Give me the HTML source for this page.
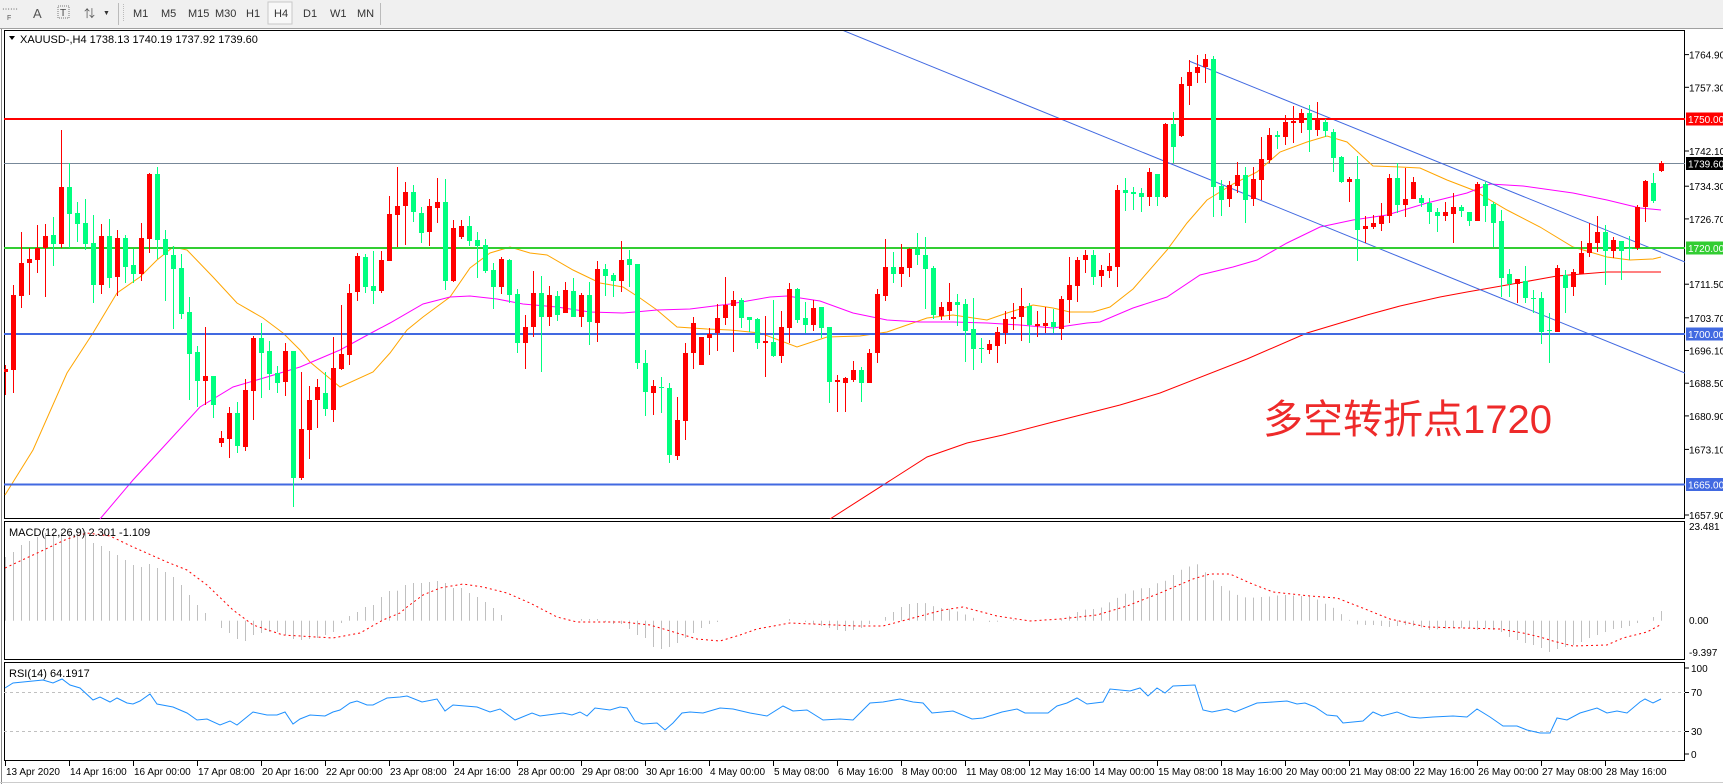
<!DOCTYPE html>
<html><head><meta charset="utf-8"><style>
html,body{margin:0;padding:0;background:#fff;width:1723px;height:784px;overflow:hidden}
svg text{font-family:"Liberation Sans","Noto Sans CJK SC",sans-serif}
</style></head><body>
<svg id="s" width="1723" height="784" xmlns="http://www.w3.org/2000/svg">
<defs>
<clipPath id="cm"><rect x="4" y="31" width="1681" height="488"/></clipPath>
<clipPath id="cd"><rect x="4" y="522" width="1681" height="137"/></clipPath>
<clipPath id="cr"><rect x="4" y="663" width="1681" height="98"/></clipPath>
</defs>
<rect x="0" y="0" width="1723" height="28" fill="#f0f0f0"/>
<line x1="0" y1="28.5" x2="1723" y2="28.5" stroke="#a0a0a0"/>
<g font-size="11" fill="#333">
<text x="2" y="12" font-size="8" fill="#555">⋯⋯</text><text x="7" y="20" font-size="7" fill="#555">F</text>
<text x="33" y="18" font-size="13" fill="#555">A</text>
<rect x="58" y="6" width="11" height="12" fill="none" stroke="#777" stroke-dasharray="1,1"/><text x="60" y="16" font-size="10" fill="#444">T</text>
<text x="84" y="17" font-size="11" fill="#555">⇅</text><text x="103" y="15" font-size="7" fill="#333">▼</text>
<line x1="118.5" y1="3" x2="118.5" y2="25" stroke="#bbb"/><line x1="123.5" y1="4" x2="123.5" y2="22" stroke="#bbb" stroke-dasharray="1,1"/>
<rect x="268" y="2" width="24" height="22" fill="#f8f8f8" stroke="#c8c8c8"/>
<text x="133" y="17">M1</text><text x="161" y="17">M5</text><text x="188" y="17">M15</text><text x="215" y="17">M30</text>
<text x="246" y="17">H1</text><text x="274" y="17">H4</text><text x="303" y="17">D1</text><text x="330" y="17">W1</text><text x="357" y="17">MN</text>
<line x1="380.5" y1="3" x2="380.5" y2="25" stroke="#bbb"/>
</g>
<line x1="1.5" y1="29" x2="1.5" y2="784" stroke="#888"/>
<rect x="4.5" y="30.5" width="1680" height="488" fill="none" stroke="#000"/>
<rect x="4.5" y="521.5" width="1680" height="138" fill="none" stroke="#000"/>
<rect x="4.5" y="662.5" width="1680" height="98" fill="none" stroke="#000"/>
<line x1="0" y1="782.5" x2="1723" y2="782.5" stroke="#ccc"/>
<g id="main" clip-path="url(#cm)"></g>
<g id="macd" clip-path="url(#cd)"></g>
<g id="rsi" clip-path="url(#cr)"></g>
<g id="ax" font-size="10" fill="#000"></g>
<path d="M9 36 L15 36 L12 40 Z" fill="#000"/>
<text x="20" y="43" font-size="11">XAUUSD-,H4  1738.13 1740.19 1737.92 1739.60</text>
<text x="9" y="536" font-size="11">MACD(12,26,9) 2.301 -1.109</text>
<text x="9" y="677" font-size="11">RSI(14) 64.1917</text>
<text x="1552" y="433" font-size="40" fill="#ee2a2a" text-anchor="end" font-family="'Liberation Sans','Noto Sans CJK SC',sans-serif">多空转折点1720</text>
</svg>
<script>
var NS="http://www.w3.org/2000/svg";
function el(p,t,a){var e=document.createElementNS(NS,t);for(var k in a)e.setAttribute(k,a[k]);p.appendChild(e);return e;}
var M=document.getElementById("main"),D=document.getElementById("macd"),R=document.getElementById("rsi"),A=document.getElementById("ax");
var C="r 369 372 365 395|r 295 370 285 393|r 263 296 232 308|r 259 263 248 295|r 248 260 225 273|r 236 248 224 297|g 235 244 217 266|r 187 244 130 248|g 187 214 163 248|g 213 224 202 242|g 223 244 199 250|g 243 285 215 303|r 236 285 224 294|g 236 278 219 288|r 238 277 230 296|g 238 267 235 283|g 265 274 249 283|r 238 274 223 281|r 174 239 173 253|g 174 240 167 259|g 239 255 230 301|g 255 269 246 329|g 268 314 254 319|g 312 354 297 400|g 352 381 346 407|r 376 381 327 405|g 376 405 376 418|r 438 443 431 447|r 413 439 407 458|g 413 446 402 453|r 390 447 379 451|r 338 391 336 420|g 338 353 323 398|g 351 374 341 390|g 373 383 366 393|r 351 382 343 396|g 351 478 351 507|r 429 478 372 480|r 400 430 386 459|r 387 400 379 428|g 393 409 372 416|r 368 410 337 422|r 354 369 305 370|r 293 355 284 365|r 256 292 253 301|g 257 287 254 293|g 286 291 251 304|r 260 291 251 293|r 214 261 196 261|r 206 215 167 247|r 192 206 182 245|g 192 212 185 222|g 213 233 207 243|r 206 232 199 246|r 202 208 178 223|g 202 281 179 290|r 228 281 220 282|r 226 237 220 239|g 226 241 216 246|g 240 246 232 278|g 245 271 239 273|g 270 287 263 309|r 259 287 257 294|g 260 295 259 303|g 294 343 289 353|r 327 343 315 369|r 293 327 271 337|g 293 317 276 372|r 295 317 286 326|g 296 315 291 321|r 290 313 282 313|g 291 317 278 317|r 295 317 293 327|g 295 322 282 345|r 269 323 261 342|g 269 276 264 296|g 275 281 273 297|r 260 281 241 292|g 259 265 250 287|g 264 363 264 369|g 363 392 350 416|r 386 393 380 415|g 387 388 377 413|g 388 455 383 463|r 420 456 397 460|r 353 421 343 440|r 323 353 317 369|r 337 365 337 365|r 334 338 328 355|r 318 333 304 351|r 305 318 277 325|r 300 306 291 352|g 300 318 298 328|g 317 320 317 332|g 319 343 318 349|r 341 343 316 377|g 342 356 300 357|r 327 356 311 363|r 289 328 283 343|g 289 320 288 323|g 318 325 302 333|r 308 325 300 331|g 307 328 307 338|g 327 382 327 403|r 380 382 375 412|r 378 383 377 412|r 370 380 361 382|g 370 383 367 402|r 353 383 349 383|r 294 353 289 363|r 267 296 239 301|g 267 274 252 283|r 267 274 244 287|r 249 268 248 277|g 249 255 233 265|g 255 269 237 309|g 268 315 266 319|r 307 316 302 320|r 302 311 283 320|g 302 305 294 326|g 304 331 299 362|g 329 349 298 370|g 348 349 338 363|r 344 350 340 354|r 332 346 327 363|r 319 333 311 344|r 317 319 303 330|r 306 317 288 341|g 306 325 303 343|r 324 326 311 337|r 323 326 307 333|g 322 327 309 333|r 299 329 296 340|r 285 300 257 323|r 260 286 257 302|r 255 260 250 273|g 255 277 250 285|r 270 276 265 287|r 266 271 253 278|r 190 267 185 287|g 190 193 178 211|g 192 194 187 210|g 193 197 188 212|r 172 197 168 206|g 174 197 174 206|r 124 197 123 198|g 124 147 112 163|r 84 136 77 137|r 72 86 60 105|r 67 73 55 83|r 59 67 54 83|g 59 187 56 217|g 186 200 180 216|r 185 199 181 207|r 175 186 162 193|g 175 200 167 223|r 179 199 167 206|r 159 180 137 200|r 135 160 128 163|g 135 137 131 149|r 122 137 115 145|r 121 123 106 143|r 113 123 109 133|g 113 130 105 152|r 118 130 102 136|g 122 131 119 137|g 132 158 129 172|g 157 182 156 183|r 179 182 177 202|g 179 230 156 261|r 226 229 216 243|r 223 227 215 229|r 216 224 203 231|r 178 216 174 223|g 178 205 163 213|r 199 205 168 217|r 182 199 177 199|g 198 203 195 207|g 203 212 198 224|g 212 216 208 232|r 212 216 202 221|r 207 214 193 243|g 207 211 205 217|g 212 221 212 226|r 184 221 182 221|g 184 206 182 222|g 204 223 202 247|g 221 278 210 297|g 274 284 269 297|r 279 284 279 303|g 281 298 266 303|g 298 299 290 313|g 298 332 292 344|g 330 331 313 363|r 268 332 265 332|g 275 288 270 313|r 272 287 269 296|r 253 274 241 274|r 243 253 223 257|r 232 243 216 252|g 232 251 225 285|r 240 251 237 258|g 241 251 241 280|g 248 249 236 260|r 207 248 205 250|r 181 207 180 222|g 183 201 173 203|r 163 171 161 172".split("|");
function X(k){return Math.round(5.3+8*k);}
function hl(g,y,c,w){el(g,"line",{x1:4,y1:y,x2:1685,y2:y,stroke:c,"stroke-width":w});}
hl(M,163.5,"#778899",1);
function pl(g,pts,c,extra){var a={points:pts.map(function(p){return p[0]+","+p[1]}).join(" "),fill:"none",stroke:c,"stroke-width":1};for(var k in extra)a[k]=extra[k];el(g,"polyline",a);}
pl(M,[[5,495],[33,450],[67,373],[93,333],[117,293],[140,277],[157,260],[173,247],[187,250],[213,277],[237,303],[263,318],[283,333],[300,350],[310,362],[340,387],[373,372],[390,353],[407,330],[423,317],[450,297],[470,268],[490,253],[510,247],[530,253],[547,255],[573,270],[600,283],[623,287],[640,298],[657,310],[677,327],[707,329],[730,330],[760,333],[797,347],[827,337],[860,336],[887,332],[927,318],[953,315],[987,320],[1007,313],[1033,305],[1053,308],[1070,312],[1093,312],[1110,307],[1133,289],[1167,250],[1187,223],[1207,200],[1233,184],[1257,172],[1280,152],[1307,142],[1327,136],[1347,142],[1373,166],[1400,167],[1420,168],[1447,180],[1473,190],[1507,210],[1540,227],[1573,247],[1607,257],[1630,260],[1653,259],[1661,257]],"#ffa500");
pl(M,[[100,519],[133,480],[167,443],[200,407],[233,387],[267,377],[300,367],[340,350],[373,332],[390,323],[423,304],[450,297],[470,296],[497,299],[523,304],[557,307],[590,312],[623,313],[657,310],[690,309],[730,304],[770,297],[787,296],[820,301],[853,313],[887,320],[920,322],[953,322],[987,323],[1020,325],[1053,328],[1087,323],[1100,322],[1133,308],[1167,297],[1200,275],[1233,267],[1257,260],[1287,243],[1320,227],[1353,220],[1387,215],[1427,203],[1467,193],[1490,184],[1523,186],[1573,193],[1607,200],[1640,208],[1661,210]],"#ff00ff");
pl(M,[[830,519],[891,480],[927,457],[967,443],[1003,435],[1053,422],[1120,405],[1160,393],[1247,359],[1307,333],[1367,315],[1400,306],[1440,297],[1467,292],[1507,285],[1557,276],[1607,272],[1661,272]],"#ff0000");
el(M,"line",{x1:842,y1:30,x2:1685,y2:373,stroke:"#4169e1","stroke-width":1});
el(M,"line",{x1:1189,y1:61,x2:1685,y2:262,stroke:"#4169e1","stroke-width":1});
hl(M,119,"#ff0000",2);hl(M,248,"#32cd32",2);hl(M,334,"#4169e1",2);hl(M,484.5,"#4169e1",2);
C.forEach(function(s,k){var p=s.split(" "),c=p[0]=="r"?"#ff0000":"#00ff7f",t=+p[1],b=+p[2],wt=+p[3],wb=+p[4],x=X(k);
el(M,"rect",{x:x,y:wt,width:1,height:Math.max(1,wb-wt),fill:c});
el(M,"rect",{x:x-2,y:t,width:5,height:Math.max(1,b-t),fill:c});});
function interp(pts,x){if(x<=pts[0][0])return pts[0][1];for(var i=1;i<pts.length;i++){if(x<=pts[i][0]){var a=pts[i-1],b=pts[i];return a[1]+(b[1]-a[1])*(x-a[0])/(b[0]-a[0]);}}return pts[pts.length-1][1];}
var h1=[557,552,545,541,537,533,532,532,531,531,532,543,546,551,555,560,565,567,564,568,572,577,585,595,605,613,620,628,633,639,641,635,633,632,632,635,639,640,639,638,635,632,623,616,612,607,605,597,591,590.7,585,583,583,582,581,583,588,588,593,597,602,608,615,620,621,620,620,621,621,621,621,620,619,619,619,622,624,624,629,635,638,647,649,647,643,638,633,628,624,622,621,620,620,621,621,620,620,620,619,621,622,624,626,628,630,631,630,628,624,621,617,612,607,604];
var hp=h1.map(function(v,k){return [5.3+8*k,v];});
[[22,603],[45,603],[68,606],[92,608],[115,609],[138,611],[162,614],[185,617],[208,621],[232,622],[255,622],[278,621],[302,619],[325,621],[415,621],[440,620],[462,619],[487,614],[510,611],[533,609],[557,609],[580,607],[603,601],[627,597],[650,593],[673,590],[697,588],[720,588],[743,583],[765,581],[790,575],[812,570],[835,567],[858,563],[882,571],[905,579],[928,585],[950,589],[975,594],[998,597],[1020,598],[1045,597],[1068,597],[1090,596],[1115,595],[1137,595],[1160,596],[1183,596],[1207,597],[1230,601],[1253,605],[1277,609],[1300,616],[1323,621],[1345,625],[1368,625],[1392,625],[1415,626],[1440,627],[1462,626],[1485,625],[1508,626],[1530,627],[1555,630]].forEach(function(p){hp.push([910+p[0]/3,p[1]]);});
[[40,628],[64,628],[88,628],[112,630],[136,628],[160,630],[184,632],[208,637],[232,640],[256,643],[280,645],[304,648],[328,652],[352,649],[376,647],[400,645],[424,642],[448,638],[472,635],[496,632],[520,629],[544,628],[568,626],[592,623],[616,621],[640,617],[664,611]].forEach(function(p){hp.push([1440+p[0]/3,p[1]]);});
for(var k=0;k<208;k++){var x=X(k),y=interp(hp,5.3+8*k),z=620.7;var a=Math.min(y,z),b=Math.max(y,z);if(b-a<0.8)continue;el(D,"rect",{x:x,y:a,width:1,height:b-a,fill:"#c0c0c0"});}
pl(D,[[5,568],[33,555],[67,539],[87,533],[110,536],[133,547],[167,562],[187,570],[207,585],[233,610],[253,625],[283,635],[333,638],[360,633],[383,620],[400,613],[407,607],[423,595],[440,588],[463,584],[483,587],[507,593],[530,603],[557,617],[577,622],[623,622],[650,625],[677,633],[697,639],[720,641],[740,635],[757,629],[790,623],[857,626],[883,626],[913,618],[943,610],[963,607],[997,616],[1030,621],[1060,619],[1097,615],[1127,606],[1160,593],[1193,579],[1210,574],[1230,574],[1250,583],[1273,592],[1310,596],[1337,598],[1360,607],[1390,619],[1427,627],[1500,629],[1523,633],[1540,637],[1553,641],[1573,646],[1607,645],[1623,638],[1647,632],[1660,625]],"#ff0000",{"stroke-dasharray":"2,3"});
el(R,"line",{x1:4,y1:692.5,x2:1685,y2:692.5,stroke:"#c0c0c0","stroke-dasharray":"3,3"});
el(R,"line",{x1:4,y1:731.5,x2:1685,y2:731.5,stroke:"#c0c0c0","stroke-dasharray":"3,3"});
pl(R,[[5,688],[13,683],[33,681],[43,680],[53,683],[62,679],[70,685],[80,688],[93,700],[100,697],[110,702],[117,698],[127,703],[133,704],[140,701],[150,694],[157,704],[173,707],[187,713],[197,720],[207,719],[220,725],[230,721],[237,725],[253,712],[267,715],[277,715],[285,712],[293,724],[300,719],[310,715],[325,716],[333,712],[340,710],[350,703],[357,701],[367,705],[373,705],[387,698],[400,697],[407,696],[422,702],[437,699],[445,711],[453,705],[477,707],[490,712],[500,709],[515,720],[532,713],[540,716],[563,713],[572,715],[580,712],[587,716],[595,708],[610,710],[620,707],[627,708],[635,721],[643,724],[657,723],[665,730],[673,723],[682,713],[690,712],[703,713],[720,708],[733,709],[750,713],[767,716],[783,706],[793,711],[807,710],[823,720],[840,719],[853,720],[870,703],[883,702],[900,699],[913,702],[923,703],[932,713],[953,711],[972,719],[983,718],[1002,712],[1017,709],[1025,713],[1048,713],[1057,706],[1067,703],[1077,698],[1087,704],[1103,702],[1110,689],[1130,691],[1140,688],[1148,696],[1157,688],[1165,693],[1173,686],[1195,685],[1203,710],[1212,712],[1227,709],[1235,712],[1257,703],[1273,702],[1287,701],[1297,704],[1305,703],[1315,707],[1327,715],[1337,716],[1343,723],[1363,721],[1373,712],[1382,716],[1397,712],[1410,717],[1420,718],[1433,717],[1453,716],[1467,717],[1477,709],[1490,717],[1503,726],[1517,726],[1527,730],[1540,733],[1550,733],[1557,718],[1567,720],[1580,713],[1597,708],[1607,713],[1617,711],[1627,713],[1640,702],[1645,699],[1653,703],[1661,699]],"#1e90ff");
[["1764.90",54.6],["1757.30",87.3],["1742.10",151],["1734.30",186.2],["1726.70",218.9],["1711.50",284.2],["1703.70",317.8],["1696.10",350.5],["1688.50",383.2],["1680.90",415.9],["1673.10",449.4],["1657.90",515]].forEach(function(p){
el(A,"line",{x1:1685,y1:p[1],x2:1689,y2:p[1],stroke:"#000"});var t=el(A,"text",{x:1689,y:p[1]+4});t.textContent=p[0];});
[["1750.00",119,"#ff0000"],["1739.60",163.5,"#000000"],["1720.00",248,"#32cd32"],["1700.00",334,"#4169e1"],["1665.00",484.5,"#4169e1"]].forEach(function(p){
el(A,"rect",{x:1686,y:p[1]-6.5,width:37,height:13,fill:p[2]});var t=el(A,"text",{x:1688,y:p[1]+4,fill:"#fff"});t.textContent=p[0];});
[["23.481",530],["0.00",624],["-9.397",656]].forEach(function(p){var t=el(A,"text",{x:1689,y:p[1]});t.textContent=p[0];});
[["100",672,668],["70",696,692.5],["30",735,731.5],["0",758,754]].forEach(function(p){el(A,"line",{x1:1685,y1:p[2],x2:1689,y2:p[2],stroke:"#000"});var t=el(A,"text",{x:1691,y:p[1]});t.textContent=p[0];});
var L=["13 Apr 2020","14 Apr 16:00","16 Apr 00:00","17 Apr 08:00","20 Apr 16:00","22 Apr 00:00","23 Apr 08:00","24 Apr 16:00","28 Apr 00:00","29 Apr 08:00","30 Apr 16:00","4 May 00:00","5 May 08:00","6 May 16:00","8 May 00:00","11 May 08:00","12 May 16:00","14 May 00:00","15 May 08:00","18 May 16:00","20 May 00:00","21 May 08:00","22 May 16:00","26 May 00:00","27 May 08:00","28 May 16:00"];
L.forEach(function(s,i){var x=5+64*i;el(A,"line",{x1:x+0.5,y1:761,x2:x+0.5,y2:766,stroke:"#000"});var t=el(A,"text",{x:x+1,y:775});t.textContent=s;});
</script>
</body></html>
